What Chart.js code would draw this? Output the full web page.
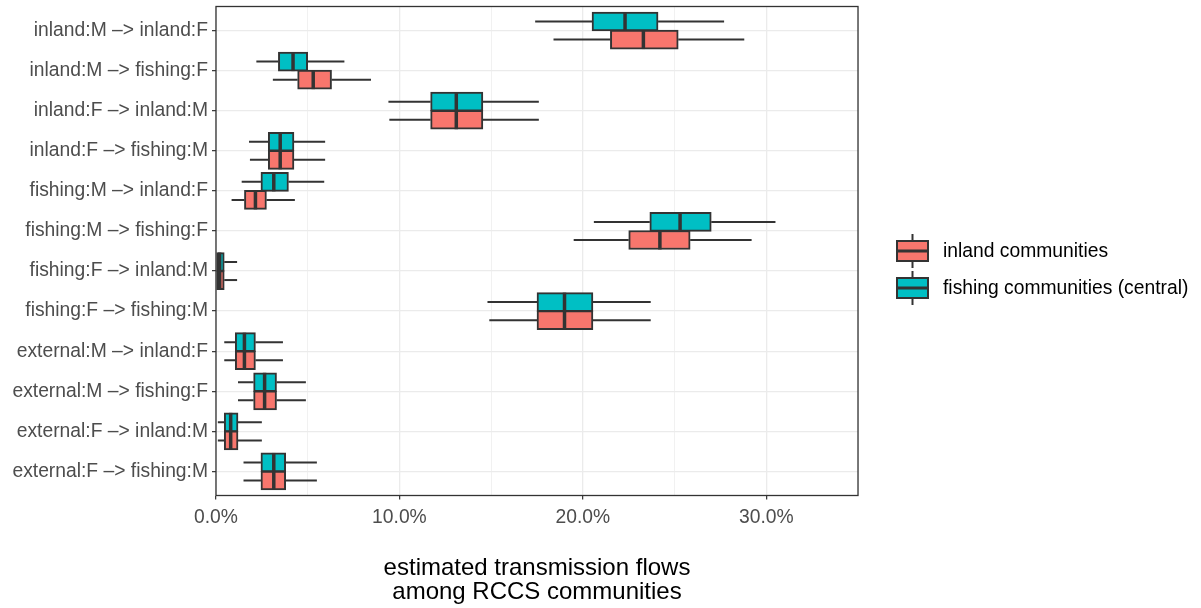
<!DOCTYPE html>
<html>
<head>
<meta charset="utf-8">
<script src="https://cdn.jsdelivr.net/npm/chart.js@4"></script>
<style>
  body { margin: 0; background: #fff; }
  #wrap { width: 1201px; height: 608px; }
</style>
</head>
<body>
<div id="wrap"><canvas id="myChart" width="1201" height="608"></canvas></div>
<script>
const categories = [
  'inland:M –> inland:F',
  'inland:M –> fishing:F',
  'inland:F –> inland:M',
  'inland:F –> fishing:M',
  'fishing:M –> inland:F',
  'fishing:M –> fishing:F',
  'fishing:F –> inland:M',
  'fishing:F –> fishing:M',
  'external:M –> inland:F',
  'external:M –> fishing:F',
  'external:F –> inland:M',
  'external:F –> fishing:M',
];
const groups = ['inland communities', 'fishing communities (central)'];

// percentages
const inlandMin = [18.4, 3.1, 9.45, 1.85, 0.85, 19.5, 0, 14.9, 0.45, 1.2, 0.1, 1.5];
const inlandQ1 = [21.5, 4.45, 11.7, 2.85, 1.55, 22.5, 0, 17.5, 1.05, 2.05, 0.45, 2.45];
const inlandMed = [23.3, 5.3, 13.1, 3.5, 2.15, 24.2, 0.2, 19.0, 1.55, 2.65, 0.8, 3.15];
const inlandQ3 = [25.2, 6.3, 14.55, 4.25, 2.75, 25.85, 0.45, 20.55, 2.15, 3.3, 1.2, 3.8];
const inlandMax = [28.8, 8.45, 17.6, 5.95, 4.3, 29.2, 1.15, 23.7, 3.65, 4.9, 2.5, 5.5];

const fishingMin = [17.4, 2.2, 9.4, 1.8, 1.4, 20.6, 0, 14.8, 0.45, 1.2, 0.1, 1.5];
const fishingQ1 = [20.5, 3.4, 11.7, 2.85, 2.45, 23.65, 0, 17.5, 1.05, 2.05, 0.45, 2.45];
const fishingMed = [22.3, 4.2, 13.1, 3.5, 3.15, 25.3, 0.2, 19.0, 1.55, 2.65, 0.8, 3.15];
const fishingQ3 = [24.1, 5.0, 14.55, 4.25, 3.95, 27.0, 0.45, 20.55, 2.15, 3.3, 1.2, 3.8];
const fishingMax = [27.7, 7.0, 17.6, 5.95, 5.9, 30.5, 1.15, 23.7, 3.65, 4.9, 2.5, 5.5];

const colors = ['#F8766D', '#00BFC4'];
const DODGE = 0.225;
const FONT = 'Liberation Sans, Arial, Helvetica, sans-serif';

function boxData(lo, q1, med, q3, hi, shift) {
  return categories.map((c, i) => ({
    y: i + 1 + shift,
    x: [q1[i], q3[i]],
    lo: lo[i], med: med[i], hi: hi[i],
  }));
}

// whiskers + median lines on top of the floating bars
const boxExtras = {
  id: 'boxExtras',
  afterDatasetsDraw(chart) {
    const ctx = chart.ctx;
    const xs = chart.scales.x;
    chart.data.datasets.forEach((ds, di) => {
      const meta = chart.getDatasetMeta(di);
      meta.data.forEach((bar, i) => {
        const d = ds.data[i];
        const y = bar.y;
        const h = bar.height;
        ctx.save();
        ctx.strokeStyle = '#333333';
        ctx.lineWidth = 2;
        ctx.beginPath();
        ctx.moveTo(xs.getPixelForValue(d.lo), y);
        ctx.lineTo(xs.getPixelForValue(d.x[0]), y);
        ctx.moveTo(xs.getPixelForValue(d.x[1]), y);
        ctx.lineTo(xs.getPixelForValue(d.hi), y);
        ctx.stroke();
        const m = xs.getPixelForValue(d.med);
        ctx.lineWidth = 3.5;
        ctx.beginPath();
        ctx.moveTo(m, y - h / 2);
        ctx.lineTo(m, y + h / 2);
        ctx.stroke();
        ctx.restore();
      });
    });
  },
  afterDraw(chart) {
    const ctx = chart.ctx;
    const a = chart.chartArea;
    // panel border
    ctx.save();
    ctx.strokeStyle = '#333333';
    ctx.lineWidth = 1.3;
    ctx.strokeRect(a.left, a.top, a.right - a.left, a.bottom - a.top);
    // legend with boxplot keys
    const kx = a.right + 39;
    chart.data.datasets.forEach((ds, i) => {
      const cy = a.top + 244.5 + i * 37;
      ctx.strokeStyle = '#333333';
      ctx.lineWidth = 2;
      ctx.beginPath();
      ctx.moveTo(kx + 15.5, cy - 17);
      ctx.lineTo(kx + 15.5, cy + 17);
      ctx.stroke();
      ctx.fillStyle = ds.backgroundColor;
      ctx.fillRect(kx, cy - 10, 31, 20);
      ctx.strokeRect(kx, cy - 10, 31, 20);
      ctx.lineWidth = 3;
      ctx.beginPath();
      ctx.moveTo(kx, cy);
      ctx.lineTo(kx + 31, cy);
      ctx.stroke();
      ctx.fillStyle = '#000000';
      ctx.font = '19.3px ' + FONT;
      ctx.textBaseline = 'middle';
      ctx.textAlign = 'left';
      ctx.fillText(ds.label, kx + 46, cy + 1);
    });
    ctx.restore();
  },
};

new Chart(document.getElementById('myChart'), {
  type: 'bar',
  data: {
    datasets: [
      {
        label: groups[0],
        data: boxData(inlandMin, inlandQ1, inlandMed, inlandQ3, inlandMax, DODGE),
        backgroundColor: colors[0],
        borderColor: '#333333',
        borderWidth: 2,
        borderSkipped: false,
        barThickness: 19,
        grouped: false,
      },
      {
        label: groups[1],
        data: boxData(fishingMin, fishingQ1, fishingMed, fishingQ3, fishingMax, -DODGE),
        backgroundColor: colors[1],
        borderColor: '#333333',
        borderWidth: 2,
        borderSkipped: false,
        barThickness: 19,
        grouped: false,
      },
    ],
  },
  options: {
    indexAxis: 'y',
    responsive: false,
    animation: false,
    layout: { padding: { top: 6.5, right: 343, left: 0, bottom: 0 } },
    plugins: { legend: { display: false }, tooltip: { enabled: false } },
    scales: {
      x: {
        type: 'linear',
        min: 0,
        max: 35,
        offset: false,
        afterFit: (s) => { s.height = 112.5; s.paddingLeft = 0; s.paddingRight = 0; },
        ticks: {
          stepSize: 5,
          color: '#4D4D4D',
          font: { family: FONT, size: 19.3 },
          padding: 7,
          maxRotation: 0,
          callback: (v) => (v % 10 === 0 ? v.toFixed(1) + '%' : ''),
        },
        grid: {
          offset: false,
          color: '#EBEBEB',
          lineWidth: (c) => (c.tick && c.tick.value % 10 === 0 ? 1.3 : 0.7),
          tickColor: (c) => (c.tick && c.tick.value % 10 === 0 && c.tick.value < 35 ? '#333333' : 'rgba(0,0,0,0)'),
          tickLength: 4,
          tickWidth: 1.2,
        },
        border: { display: false },
        title: {
          display: true,
          text: ['estimated transmission flows', 'among RCCS communities'],
          color: '#000000',
          font: { family: FONT, size: 24, lineHeight: 1.0 },
          padding: { top: 0, bottom: 4 },
        },
      },
      y: {
        type: 'linear',
        min: 0.4,
        max: 12.6,
        reverse: true,
        offset: false,
        afterFit: (s) => { s.width = 216; s.paddingTop = 0; s.paddingBottom = 0; },
        afterBuildTicks: (s) => { s.ticks = categories.map((c, i) => ({ value: i + 1 })); },
        ticks: {
          color: '#4D4D4D',
          font: { family: FONT, size: 19.3 },
          padding: 4,
          autoSkip: false,
          callback: (v) => categories[v - 1],
        },
        grid: {
          offset: false,
          color: '#EBEBEB',
          lineWidth: 1.3,
          tickColor: '#333333',
          tickLength: 4,
          tickWidth: 1.2,
        },
        border: { display: false },
      },
    },
  },
  plugins: [boxExtras],
});
</script>
</body>
</html>
